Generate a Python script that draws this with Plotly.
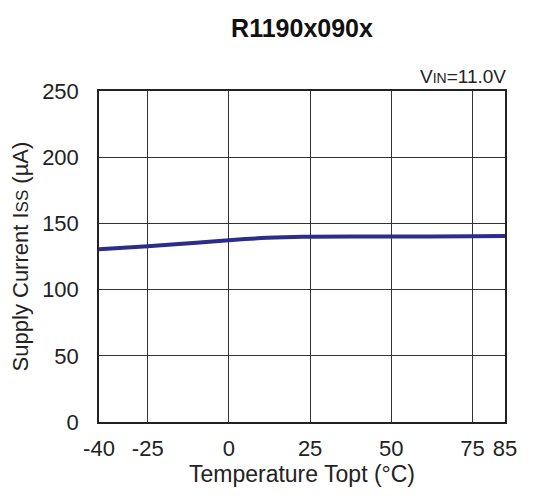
import plotly.graph_objects as go

temps = [-40, -25, -10, 0, 10, 20, 25, 50, 75, 85]
iss = [130.5, 132.8, 135.3, 137.3, 138.9, 139.7, 139.9, 140.1, 140.3, 140.4]

x_ticks = [-40, -25, 0, 25, 50, 75, 85]
y_ticks = [0, 50, 100, 150, 200, 250]

FONT = "Liberation Sans, Arial, sans-serif"

fig = go.Figure()
fig.add_trace(go.Scatter(x=temps, y=iss, mode="lines",
                         line=dict(color="#2b2d8c", width=4, shape="spline", smoothing=0.6),
                         hoverinfo="skip", showlegend=False))

fig.update_layout(
    width=521, height=486,
    margin=dict(l=91, r=14, t=83, b=62),
    paper_bgcolor="white", plot_bgcolor="white",
    font=dict(family=FONT, color="#222222"),
    title=dict(text="<b>R1190x090x</b>", x=0.5, xref="paper", xanchor="center",
               y=1 - 20 / 486, yanchor="middle",
               font=dict(size=25, family=FONT, color="#111111")),
    xaxis=dict(range=[-40, 85], tickvals=x_ticks, ticktext=[str(v) for v in x_ticks],
               showgrid=True, gridcolor="#333333", gridwidth=1.3, zeroline=False,
               showline=True, linecolor="#222222", linewidth=1.5, mirror=True,
               ticks="", tickfont=dict(size=22), ticklabelstandoff=6,
               title=dict(text="Temperature Topt (°C)", font=dict(size=23), standoff=5)),
    yaxis=dict(range=[0, 250], tickvals=y_ticks, showgrid=True, gridcolor="#333333", gridwidth=1.3,
               zeroline=False, showline=True, linecolor="#222222", linewidth=1.5, mirror=True,
               ticks="", tickfont=dict(size=22), ticklabelstandoff=14,
               title=dict(text="Supply Current I<span style='font-size:17px'>SS</span> (µA)",
                          font=dict(size=22), standoff=7)),
)
fig.add_annotation(text="V<span style='font-size:14px'>IN</span>=11.0V", xref="paper", yref="paper",
                   x=1.0, y=1.0, xanchor="right", yanchor="bottom", yshift=2, xshift=3, showarrow=False,
                   font=dict(size=19, family=FONT, color="#222222"))

fig.write_html("out.html")
